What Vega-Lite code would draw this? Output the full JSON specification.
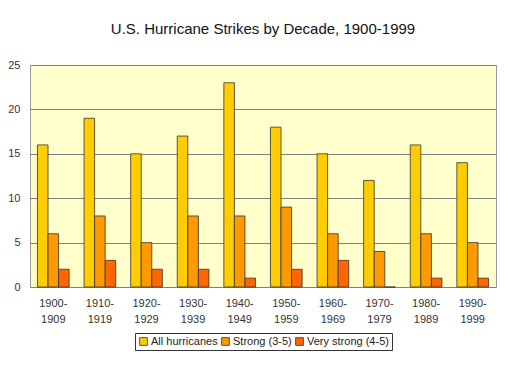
{
  "$schema": "https://vega.github.io/schema/vega-lite/v6.json",
  "width": 466,
  "height": 222,
  "autosize": {"type": "none"},
  "padding": {"left": 30, "top": 65, "right": 14, "bottom": 82},
  "background": "white",
  "title": {"text": "U.S. Hurricane Strikes by Decade, 1900-1999", "font": "Liberation Sans", "fontSize": 15, "fontWeight": "normal", "color": "#111", "anchor": "middle", "offset": 22},
  "config": {
    "view": {"fill": "#FFFFCC", "stroke": "#999", "strokeWidth": 1},
    "font": "Liberation Sans"
  },
  "data": {
    "values": [
      {"decade": "1900-1909", "series": "All hurricanes", "count": 16},
      {"decade": "1900-1909", "series": "Strong (3-5)", "count": 6},
      {"decade": "1900-1909", "series": "Very strong (4-5)", "count": 2},
      {"decade": "1910-1919", "series": "All hurricanes", "count": 19},
      {"decade": "1910-1919", "series": "Strong (3-5)", "count": 8},
      {"decade": "1910-1919", "series": "Very strong (4-5)", "count": 3},
      {"decade": "1920-1929", "series": "All hurricanes", "count": 15},
      {"decade": "1920-1929", "series": "Strong (3-5)", "count": 5},
      {"decade": "1920-1929", "series": "Very strong (4-5)", "count": 2},
      {"decade": "1930-1939", "series": "All hurricanes", "count": 17},
      {"decade": "1930-1939", "series": "Strong (3-5)", "count": 8},
      {"decade": "1930-1939", "series": "Very strong (4-5)", "count": 2},
      {"decade": "1940-1949", "series": "All hurricanes", "count": 23},
      {"decade": "1940-1949", "series": "Strong (3-5)", "count": 8},
      {"decade": "1940-1949", "series": "Very strong (4-5)", "count": 1},
      {"decade": "1950-1959", "series": "All hurricanes", "count": 18},
      {"decade": "1950-1959", "series": "Strong (3-5)", "count": 9},
      {"decade": "1950-1959", "series": "Very strong (4-5)", "count": 2},
      {"decade": "1960-1969", "series": "All hurricanes", "count": 15},
      {"decade": "1960-1969", "series": "Strong (3-5)", "count": 6},
      {"decade": "1960-1969", "series": "Very strong (4-5)", "count": 3},
      {"decade": "1970-1979", "series": "All hurricanes", "count": 12},
      {"decade": "1970-1979", "series": "Strong (3-5)", "count": 4},
      {"decade": "1970-1979", "series": "Very strong (4-5)", "count": 0},
      {"decade": "1980-1989", "series": "All hurricanes", "count": 16},
      {"decade": "1980-1989", "series": "Strong (3-5)", "count": 6},
      {"decade": "1980-1989", "series": "Very strong (4-5)", "count": 1},
      {"decade": "1990-1999", "series": "All hurricanes", "count": 14},
      {"decade": "1990-1999", "series": "Strong (3-5)", "count": 5},
      {"decade": "1990-1999", "series": "Very strong (4-5)", "count": 1}
    ]
  },
  "mark": {"type": "bar", "stroke": "#333", "strokeWidth": 0.8},
  "encoding": {
    "x": {
      "field": "decade", "type": "nominal",
      "scale": {"paddingInner": 0.32, "paddingOuter": 0.16},
      "axis": {
        "title": null, "labelAngle": 0, "ticks": false, "domain": false,
        "labelExpr": "[slice(datum.value,0,5), slice(datum.value,5)]",
        "labelFontSize": 11, "labelColor": "#333", "labelPadding": 10, "labelLineHeight": 16
      }
    },
    "xOffset": {"field": "series", "type": "nominal", "scale": {"paddingInner": 0}},
    "y": {
      "field": "count", "type": "quantitative",
      "scale": {"domain": [0, 25], "nice": false},
      "axis": {
        "title": null, "values": [0, 5, 10, 15, 20, 25], "ticks": false, "domain": false,
        "gridColor": "#808080", "gridWidth": 1, "labelFontSize": 11, "labelColor": "#333", "labelPadding": 10
      }
    },
    "color": {
      "field": "series", "type": "nominal",
      "scale": {"domain": ["All hurricanes", "Strong (3-5)", "Very strong (4-5)"], "range": ["#FFCC00", "#FF9900", "#FF6600"]},
      "legend": {
        "title": null, "orient": "none", "direction": "horizontal", "legendX": 105, "legendY": 268,
        "symbolType": "square", "symbolSize": 60, "symbolStrokeColor": "#333", "symbolStrokeWidth": 0.8, "symbolOpacity": 1,
        "labelFontSize": 11, "labelColor": "#222", "columnPadding": 2, "symbolOffset": 0, "labelOffset": 2,
        "strokeColor": "#333", "fillColor": "white", "padding": 3
      }
    }
  }
}
